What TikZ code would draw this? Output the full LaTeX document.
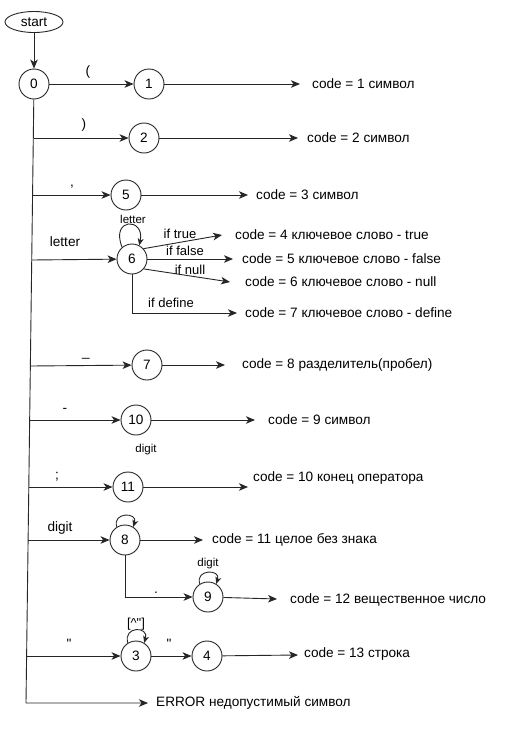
\documentclass[tikz,border=0pt]{standalone}
\usepackage{fontspec}
\newfontfamily\lib{Liberation Sans}
\usetikzlibrary{arrows.meta,shapes.geometric}
\begin{document}
\begin{tikzpicture}[x=1pt,y=-1pt,
  ln/.style={draw=black!85,line width=0.9pt},
  arr/.style={ln,-{Stealth[length=9pt,width=7.5pt,inset=2.5pt]}},
  sarr/.style={ln,-{Stealth[length=7pt,width=6pt,inset=2pt]}},
  st/.style={circle,ln,minimum size=30pt,inner sep=0pt,font=\lib\fontsize{13.6}{15}\selectfont},
  txt/.style={anchor=west,inner sep=0pt,font=\lib\fontsize{13.6}{15}\selectfont},
  lbl/.style={inner sep=0pt,font=\lib\fontsize{13.6}{15}\selectfont},
  mid/.style={inner sep=0pt,font=\lib\fontsize{13}{14}\selectfont},
  sml/.style={inner sep=0pt,font=\lib\fontsize{11.5}{13}\selectfont}
]
\useasboundingbox[fill=white] (0,0) rectangle (506,756);

% states
\node[ellipse,ln,minimum width=58pt,minimum height=21pt,inner sep=0pt,font=\lib\fontsize{13.6}{15}\selectfont] (start) at (34,22) {start};
\node[st] (n0) at (34,84) {0};
\node[st] (n1) at (149,84) {1};
\node[st] (n2) at (144,138) {2};
\node[st] (n5) at (126,195) {5};
\node[st] (n6) at (132,259) {6};
\node[st] (n7) at (147,365) {7};
\node[st] (n10) at (136,420) {10};
\node[st] (n11) at (128,487) {11};
\node[st] (n8) at (125,540) {8};
\node[st] (n9) at (208,597) {9};
\node[st] (n3) at (136,656) {3};
\node[st] (n4) at (207,656) {4};

% result texts
\node[txt] (t1) at (312,84) {code = 1 символ};
\node[txt] (t2) at (307,138) {code = 2 символ};
\node[txt] (t3) at (256,195) {code = 3 символ};
\node[txt] (t4) at (235,235) {code = 4 ключевое слово - true};
\node[txt] (t5) at (242,259) {code = 5 ключевое слово - false};
\node[txt] (t6) at (245,282) {code = 6 ключевое слово - null};
\node[txt] (t7) at (245,313) {code = 7 ключевое слово - define};
\node[txt] (t8) at (242,365) {code = 8 разделитель(пробел)};
\node[txt] (t9) at (268,420) {code = 9 символ};
\node[txt] (t10) at (253,478) {code = 10 конец оператора};
\node[txt] (t11) at (212,540) {code = 11 целое без знака};
\node[txt] (t12) at (290,600) {code = 12 вещественное число};
\node[txt] (t13) at (304,654) {code = 13 строка};
\node[txt] (terr) at (156,703) {ERROR недопустимый символ};

% arrow ends
\coordinate (e1) at (300,84);
\coordinate (e2) at (298,138);
\coordinate (e3) at (248,195);
\coordinate (e4) at (222,235);
\coordinate (e5) at (233,259);
\coordinate (e6) at (230,282);
\coordinate (e7) at (237,313);
\coordinate (e8) at (225,365);
\coordinate (e9) at (255,420);
\coordinate (e10) at (248,487);
\coordinate (e11) at (203,540);
\coordinate (e12) at (277,599);
\coordinate (e13) at (298,655);
\coordinate (eerr) at (148,703);

% trunk points
\coordinate (tend) at (26,703);
\coordinate (b2) at (33.5,138);
\coordinate (b5) at (32.7,195);
\coordinate (b6) at (31.9,260);
\coordinate (b7) at (30.5,366);
\coordinate (b10) at (29.7,420);
\coordinate (b11) at (28.9,487);
\coordinate (b8) at (28.2,540);
\coordinate (b3) at (26.6,656);

% connectors
\draw[arr] (start) -- (n0);
\draw[arr] (n0) -- (n1);
\draw[arr] (n0) -- (tend) -- (eerr);
\draw[arr] (b2) -- (n2);
\draw[arr] (b5) -- (n5);
\draw[arr] (b6) -- (n6);
\draw[arr] (b7) -- (n7);
\draw[arr] (b10) -- (n10);
\draw[arr] (b11) -- (n11);
\draw[arr] (b8) -- (n8);
\draw[arr] (b3) -- (n3);
\draw[arr] (n3) -- (n4);
\draw[arr] (n8) |- (n9);

\draw[arr] (n1) -- (e1);
\draw[arr] (n2) -- (e2);
\draw[arr] (n5) -- (e3);
\draw[arr] (n6.42) -- (e4);
\draw[arr] (n6) -- (e5);
\draw[arr] (n6.-40) -- (e6);
\draw[arr] (n6.south) |- (e7);
\draw[arr] (n7) -- (e8);
\draw[arr] (n10) -- (e9);
\draw[arr] (n11) -- (e10);
\draw[arr] (n8) -- (e11);
\draw[arr] (n9) -- (e12);
\draw[arr] (n4) -- (e13);

% loops
\draw[sarr] (n6.130) .. controls +(-12,-30) and +(6,-28) .. (n6.62);
\draw[sarr] (n8.122) .. controls +(-5,-15) and +(5,-15) .. (n8.58);
\draw[sarr] (n9.122) .. controls +(-5,-15) and +(5,-15) .. (n9.58);
\draw[sarr] (n3.122) .. controls +(-5,-17) and +(5,-17) .. (n3.58);

% labels
\node[lbl] (l1) at (88,72) {(};
\node[lbl] (l2) at (84,125) {)};
\node[lbl] (l5) at (72,187) {,};
\node[lbl] (l6) at (65,242) {letter};
\node[lbl,anchor=base] (l7) at (86,356) {\_};
\node[lbl] (l10) at (65,410) {-};
\node[lbl] (l11) at (57,477) {;};
\node[lbl] (l8) at (60,528) {digit};
\node[lbl] (l3) at (69,644) {"};
\node[lbl] (l34) at (169,644) {"};
\node[lbl,anchor=base] (l89) at (156,593) {.};
\node[sml] (loop6) at (133,219) {letter};
\node[sml] (loop9) at (208,564) {digit};
\node[mid] (loop3) at (136,624) {[\textasciicircum"]};
\node[sml] (stray) at (146,450) {digit};
\node[mid] (lt) at (180,234) {if true};
\node[mid] (lf) at (185,251) {if false};
\node[mid] (lnull) at (190,270) {if null};
\node[mid] (ldef) at (171,303) {if define};
\end{tikzpicture}
\end{document}
